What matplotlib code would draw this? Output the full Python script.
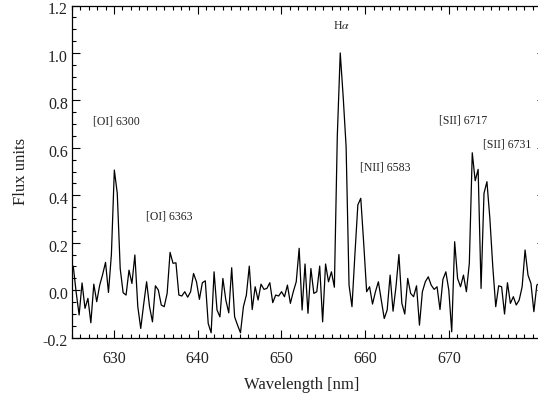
import numpy as np
import matplotlib
matplotlib.use("Agg")
import matplotlib.pyplot as plt
from matplotlib.ticker import MultipleLocator, FixedLocator, FormatStrFormatter
from matplotlib.transforms import ScaledTranslation

plt.rcParams['font.family'] = ['Liberation Serif', 'DejaVu Serif']
plt.rcParams['mathtext.fontset'] = 'stix'
plt.rcParams['axes.unicode_minus'] = False

# spectrum sampling (nm) and flux values
wl_start = 625.15
wl_step = 0.3502
flux = [
    0.10, -0.01, -0.105, 0.03, -0.077, -0.035, -0.138, 0.025, -0.049, 0.02,
    0.065, 0.117, -0.01, 0.15, 0.506, 0.408, 0.091, -0.011, -0.021, 0.084,
    0.028, 0.148, -0.07, -0.162, -0.06, 0.035, -0.07, -0.134, 0.018, 0.0,
    -0.063, -0.07, -0.014, 0.159, 0.113, 0.115, -0.021, -0.025, -0.007, -0.03,
    -0.007, 0.07, 0.035, -0.039, 0.031, 0.039, -0.141, -0.18, 0.077, -0.084,
    -0.113, 0.049, -0.042, -0.096, 0.094, -0.113, -0.148, -0.18, -0.07, -0.021,
    0.101, -0.082, 0.014, -0.042, 0.025, 0.003, 0.007, 0.031, -0.053, -0.021,
    -0.025, -0.007, -0.028, 0.021, -0.056, -0.007, 0.035, 0.176, -0.084, 0.11,
    -0.098, 0.091, -0.014, -0.007, 0.101, -0.134, 0.11, 0.035, 0.077, 0.012,
    0.65, 1.0, 0.816, 0.605, 0.021, -0.07, 0.15, 0.359, 0.387, 0.197,
    -0.007, 0.014, -0.059, -0.007, 0.035, -0.042, -0.12, -0.084, 0.063, -0.089,
    0.014, 0.15, -0.056, -0.101, 0.049, -0.014, -0.028, 0.018, -0.148, -0.007,
    0.035, 0.056, 0.021, 0.003, 0.014, -0.082, 0.045, 0.077, 0.0, -0.176,
    0.204, 0.049, 0.014, 0.063, -0.007, 0.113, 0.579, 0.461, 0.509, 0.007,
    0.408, 0.457, 0.302, 0.098, -0.07, 0.018, 0.014, -0.101, 0.031, -0.056,
    -0.028, -0.063, -0.042, 0.014, 0.169, 0.063, 0.028, -0.091, 0.021, 0.03,
]
wl = wl_start + wl_step * np.arange(len(flux))

# emission line labels
line_names = ['[OI] 6300', '[OI] 6363', r'H$\alpha$', '[NII] 6583', '[SII] 6717', '[SII] 6731']
label_x = [627.5, 633.8, 656.2, 659.4, 668.8, 674.0]
label_y = [0.709, 0.312, 1.114, 0.515, 0.713, 0.612]

x_major = [630, 640, 650, 660, 670]

fig = plt.figure(figsize=(5.38, 3.98), dpi=100)
ax = fig.add_axes([72 / 538, 1 - 337.5 / 398, 472.5 / 538, 332 / 398])

ax.plot(wl, flux, color='black', lw=0.9)

for name, tx, ty in zip(line_names, label_x, label_y):
    ax.text(tx, ty, name, fontsize=8.5, ha='left', va='center', color='#222222')

ax.set_xlim(625, 681.4)
ax.set_ylim(-0.2, 1.2)

ax.xaxis.set_major_locator(FixedLocator(x_major))
ax.xaxis.set_minor_locator(MultipleLocator(1))
ax.yaxis.set_major_locator(MultipleLocator(0.2))
ax.yaxis.set_minor_locator(MultipleLocator(0.05))
ax.yaxis.set_major_formatter(FormatStrFormatter('%.1f'))

ax.tick_params(which='both', direction='in', top=True, right=True, width=0.8, color='black')
ax.tick_params(which='major', length=5.8)
ax.tick_params(which='minor', length=3.0)
ax.tick_params(axis='x', pad=10, labelsize=11.5, labelcolor='#222222')
ax.tick_params(axis='y', pad=3, labelsize=11.5, labelcolor='#222222')

for lab in ax.get_yticklabels():
    lab.set_transform(lab.get_transform() + ScaledTranslation(0, -3 / 100, fig.dpi_scale_trans))

for sp in ax.spines.values():
    sp.set_linewidth(0.9)

ax.set_xlabel('Wavelength [nm]', fontsize=12, color='#222222')
ax.set_ylabel('Flux units', fontsize=12, color='#222222')
ax.xaxis.set_label_coords(0.487, -0.118)
ax.yaxis.set_label_coords(-0.092, 0.5)

fig.savefig('out.png', dpi=100)
